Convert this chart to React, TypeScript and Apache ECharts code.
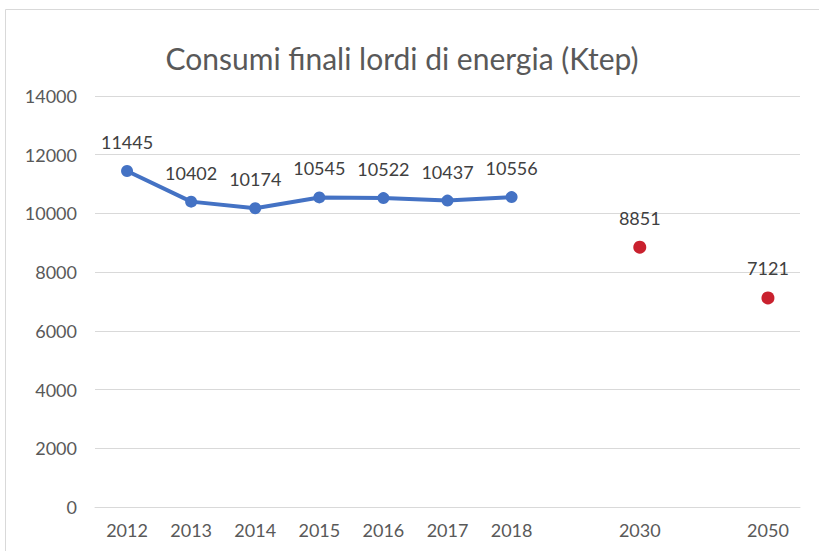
import React, { useEffect, useRef } from "react";
import * as echarts from "echarts";

const categories = ["2012", "2013", "2014", "2015", "2016", "2017", "2018", "", "2030", "", "2050"];
const historical = [11445, 10402, 10174, 10545, 10522, 10437, 10556];
const targetYears = ["2030", "2050"];
const targetValues = [8851, 7121];
const yTicks = { min: 0, max: 14000, interval: 2000 };

const FONT = "Lato, 'Open Sans', sans-serif";

export default function App() {
  const ref = useRef<HTMLDivElement>(null);
  useEffect(() => {
    if (!ref.current) return;
    const chart = echarts.init(ref.current, undefined, { renderer: "svg" });
    const histData = categories.map((c, i) => (i < historical.length ? historical[i] : "-"));
    const targetData = categories.map((c) => {
      const k = targetYears.indexOf(c);
      return c !== "" && k >= 0 ? targetValues[k] : "-";
    });
    chart.setOption({
      animation: false,
      backgroundColor: "#ffffff",
      textStyle: { fontFamily: FONT },
      title: {
        text: "Consumi finali lordi di energia (Ktep)",
        left: 397,
        top: 38,
        textAlign: "center",
        textStyle: { fontFamily: FONT, fontSize: 30, fontWeight: "normal", color: "#595959" },
      },
      graphic: [
        {
          type: "rect",
          shape: { x: 5.5, y: 9.5, width: 900, height: 700 },
          style: { fill: "none", stroke: "#D9D9D9", lineWidth: 1 },
          silent: true,
        },
      ],
      grid: { left: 95, right: 19, top: 96, bottom: 44, containLabel: false },
      xAxis: {
        type: "category",
        data: categories,
        boundaryGap: true,
        axisLine: { show: true, lineStyle: { color: "#D9D9D9", width: 1 } },
        axisTick: { show: false },
        axisLabel: { color: "#595959", fontSize: 18, fontFamily: FONT, margin: 14, interval: 0 },
      },
      yAxis: {
        type: "value",
        min: yTicks.min,
        max: yTicks.max,
        interval: yTicks.interval,
        axisLine: { show: false },
        axisTick: { show: false },
        splitLine: { lineStyle: { color: "#D9D9D9", width: 1 } },
        axisLabel: {
          color: "#595959",
          fontSize: 18,
          fontFamily: FONT,
          margin: 18,
          formatter: (v: number) => String(v),
        },
      },
      series: [
        {
          type: "line",
          data: histData,
          connectNulls: false,
          symbol: "circle",
          symbolSize: 12,
          itemStyle: { color: "#4472C4" },
          lineStyle: { color: "#4472C4", width: 4 },
          label: {
            show: true,
            position: "top",
            distance: 14,
            color: "#404040",
            fontSize: 18,
            fontFamily: FONT,
          },
        },
        {
          type: "line",
          data: targetData,
          symbol: "circle",
          symbolSize: 13,
          lineStyle: { width: 0, opacity: 0 },
          itemStyle: { color: "#C9212E" },
          label: {
            show: true,
            position: "top",
            distance: 14,
            color: "#404040",
            fontSize: 18,
            fontFamily: FONT,
          },
        },
      ],
    });
    return () => chart.dispose();
  }, []);
  return (
    <div
      ref={ref}
      style={{ position: "absolute", left: 0, top: 0, width: 819, height: 551 }}
    />
  );
}
